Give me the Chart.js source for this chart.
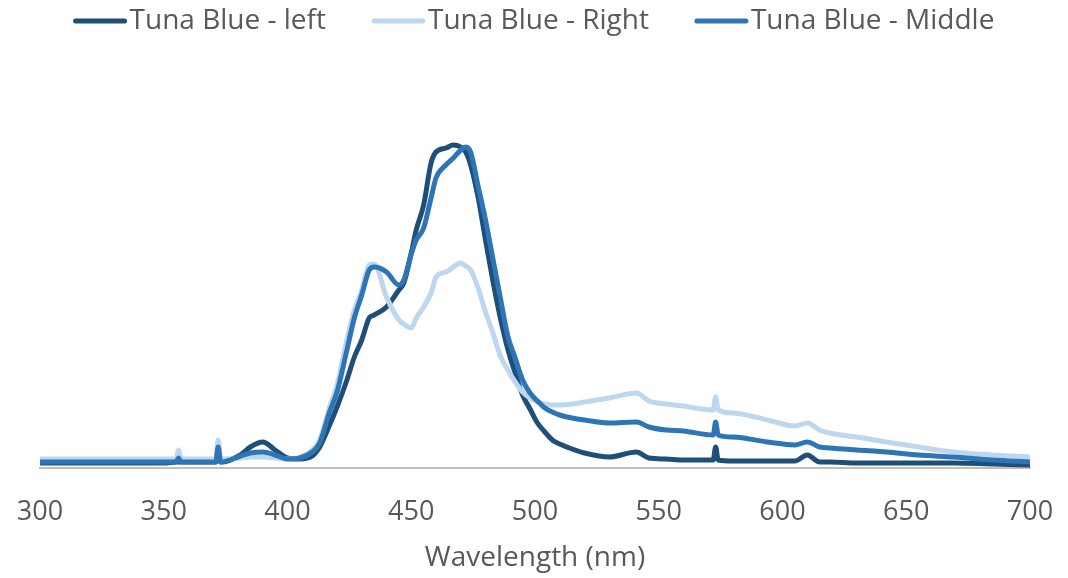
<!DOCTYPE html>
<html lang="en">
<head>
    <meta charset="UTF-8">
    <title>Tuna Blue spectrum</title>
    <style>
        html, body {
            margin: 0;
            padding: 0;
            background-color: #ffffff;
        }
        #wrap {
            width: 1068px;
            height: 578px;
        }
    </style>
</head>
<body>
    <div id="wrap"><canvas id="spectrumChart" width="1068" height="578"></canvas></div>

    <script src="https://cdn.jsdelivr.net/npm/chart.js"></script>
    <script>
        const wavelengths = [300, 310, 320, 330, 340, 350, 355, 356, 357, 365, 371, 372, 373, 381, 385, 390, 395, 400, 405, 410,
            413, 417, 420, 424, 427, 430, 433, 435, 440, 445, 447, 450, 452, 455, 458, 460, 464, 467, 470, 472,
            474, 477, 480, 483, 486, 489, 492, 495, 498, 501, 504, 507, 510, 515, 520, 530, 541, 546, 553, 560,
            572, 573, 574, 580, 594, 605, 610, 615, 619, 630, 642, 655, 669, 685, 700];

        const seriesNames = ['Tuna Blue - left', 'Tuna Blue - Right', 'Tuna Blue - Middle'];
        const seriesColors = ['#1F4E79', '#BDD7EE', '#2E75B6'];

        // intensity, arbitrary units
        const leftValues = [5, 5, 5, 5, 5, 5, 6, 6, 6, 6, 6, 8, 6, 13, 21, 26, 18, 10, 9, 12,
            21, 43, 61, 88, 111, 128, 150, 153, 161, 178, 185, 215, 238, 263, 305, 316, 320, 323, 321, 316,
            303, 271, 228, 187, 150, 119, 95, 73, 59, 45, 36, 28, 24, 19, 15, 11, 16, 10, 9, 8,
            8, 21, 8, 7, 7, 7, 13, 6, 6, 5, 5, 5, 5, 4, 3];

        const rightValues = [9, 9, 9, 9, 9, 9, 9, 18, 9, 9, 9, 28, 9, 10, 11, 11, 10, 9, 11, 18,
            28, 61, 83, 128, 158, 178, 203, 204, 171, 148, 144, 140, 150, 161, 175, 191, 196, 201, 205, 202,
            198, 180, 156, 135, 112, 98, 86, 76, 70, 66, 64, 63, 63, 64, 66, 70, 75, 67, 64, 62,
            58, 71, 58, 55, 48, 42, 45, 38, 35, 31, 26, 21, 16, 13, 11];

        const middleValues = [6, 6, 6, 6, 6, 6, 6, 10, 6, 6, 6, 21, 6, 12, 15, 16, 13, 9, 10, 16,
            25, 56, 76, 118, 150, 173, 198, 201, 196, 183, 188, 214, 228, 240, 270, 290, 303, 310, 318, 321,
            316, 282, 248, 209, 170, 132, 110, 88, 75, 67, 60, 56, 53, 50, 48, 45, 46, 41, 38, 37,
            33, 46, 33, 31, 26, 23, 26, 21, 20, 18, 16, 13, 11, 8, 6];

        const xTicks = [300, 350, 400, 450, 500, 550, 600, 650, 700];

        const textColor = '#595959';
        const fontFamily = '"Open Sans", "Noto Sans", sans-serif';

        function toPoints(values) {
            return values.map((v, i) => ({ x: wavelengths[i], y: v }));
        }

        // legend drawn by hand so the line sample and spacing look like the original
        const topLegend = {
            id: 'topLegend',
            afterDraw(chart) {
                const ctx = chart.ctx;
                const lineW = 53, gapText = 3, gapItem = 46, y = 21;
                ctx.save();
                ctx.font = '28px ' + fontFamily;
                ctx.textBaseline = 'middle';
                const widths = seriesNames.map(n => ctx.measureText(n).width);
                let total = 0;
                widths.forEach((w, i) => {
                    total += lineW + gapText + w + (i < widths.length - 1 ? gapItem : 0);
                });
                let x = (chart.width - total) / 2;
                seriesNames.forEach((name, i) => {
                    ctx.strokeStyle = seriesColors[i];
                    ctx.lineWidth = 5;
                    ctx.lineCap = 'round';
                    ctx.beginPath();
                    ctx.moveTo(x + 2, y);
                    ctx.lineTo(x + lineW - 2, y);
                    ctx.stroke();
                    ctx.fillStyle = textColor;
                    ctx.fillText(name, x + lineW + gapText, y);
                    x += lineW + gapText + widths[i] + gapItem;
                });
                ctx.restore();
            }
        };

        const ctx = document.getElementById('spectrumChart').getContext('2d');
        const chart = new Chart(ctx, {
            type: 'line',
            data: {
                datasets: [
                    { label: seriesNames[0], data: toPoints(leftValues), borderColor: seriesColors[0], order: 2 },
                    { label: seriesNames[1], data: toPoints(rightValues), borderColor: seriesColors[1], order: 1 },
                    { label: seriesNames[2], data: toPoints(middleValues), borderColor: seriesColors[2], order: 0 }
                ].map(ds => Object.assign(ds, {
                    borderWidth: 5,
                    pointRadius: 0,
                    fill: false,
                    cubicInterpolationMode: 'monotone',
                    borderJoinStyle: 'round'
                }))
            },
            options: {
                responsive: false,
                animation: false,
                layout: {
                    padding: { top: 60, left: 40, right: 38, bottom: 3 }
                },
                plugins: {
                    legend: { display: false },
                    tooltip: { enabled: false }
                },
                scales: {
                    x: {
                        type: 'linear',
                        min: 300,
                        max: 700,
                        afterBuildTicks: axis => {
                            axis.ticks = xTicks.map(v => ({ value: v }));
                        },
                        afterFit: axis => {
                            axis.paddingLeft = 0;
                            axis.paddingRight = 0;
                            axis.height = 107;
                        },
                        grid: { display: false, drawTicks: false },
                        border: { display: true, color: '#BFBFBF', width: 2 },
                        ticks: {
                            padding: 28,
                            color: textColor,
                            font: { family: fontFamily, size: 27 },
                            maxRotation: 0
                        },
                        title: {
                            display: true,
                            text: 'Wavelength (nm)',
                            color: textColor,
                            font: { family: fontFamily, size: 28 },
                            padding: { top: 14, bottom: 0 }
                        }
                    },
                    y: {
                        display: false,
                        min: 0,
                        max: 408
                    }
                }
            },
            plugins: [topLegend]
        });
    </script>
</body>
</html>
